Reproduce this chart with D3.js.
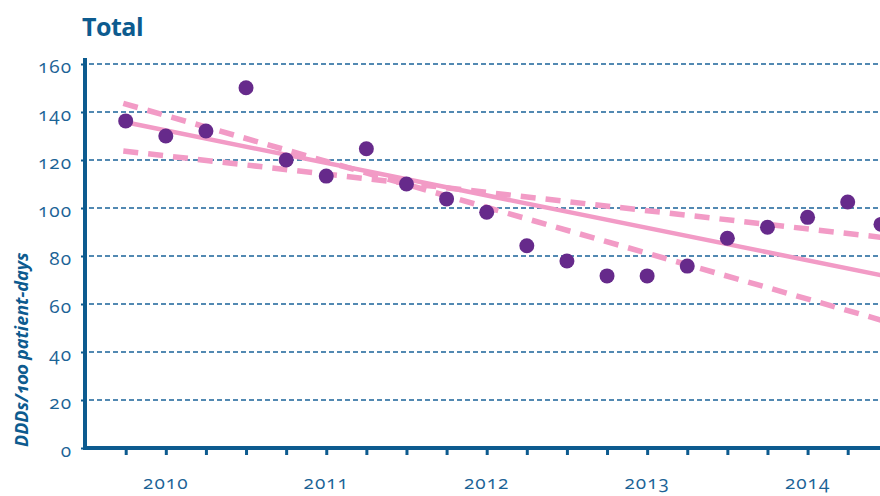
<!DOCTYPE html>
<html>
<head>
<meta charset="utf-8">
<script src="https://cdn.jsdelivr.net/npm/d3@7"></script>
<style>
  body { margin: 0; background: #fff; }
  svg { display: block; font-family: 'Open Sans', sans-serif; font-variant-numeric: oldstyle-nums; }
</style>
</head>
<body>
<script>
// quarterly values, DDDs per 100 patient-days
const quarters = d3.range(20)
const values = [136.3, 130, 132.1, 150.1, 120, 113.3, 124.7, 110, 103.8, 98.2,
                84.3, 77.9, 71.7, 71.7, 75.8, 87.4, 92, 96.1, 102.5, 93.2]
const yearLabels = ['2010', '2011', '2012', '2013', '2014']
const yearLabelQuarters = [1, 5, 9, 13, 17]
const yTicks = [0, 20, 40, 60, 80, 100, 120, 140, 160]

// trend line and its confidence limits, [quarter, value]
const trend = [[0, 135.7], [19, 72]]
const upperLimit = [[-0.06, 143.6], [19, 53.3]]
const lowerLimit = [[-0.06, 123.75], [19, 87.8]]

const W = 880
const H = 496
const MARGIN = { LEFT: 85, RIGHT: 0, TOP: 64, BOTTOM: 48 }
const BLUE = '#0d5b8f'
const TEXT_BLUE = '#1b6396'
const PINK = '#f29bc6'
const PURPLE = '#662a8b'

const svg = d3.select('body').append('svg')
  .attr('width', W)
  .attr('height', H)

// the last quarter sits right on the cut edge of the chart
const x = d3.scaleLinear()
  .domain([0, 18, 19])
  .range([125.7, 847.7, 881])

const y = d3.scaleLinear()
  .domain([0, 160])
  .range([448, 64])

// title
svg.append('text')
  .text('Total')
  .attr('x', 82)
  .attr('y', 36)
  .attr('fill', BLUE)
  .attr('font-size', '25px')
  .attr('font-weight', 'bold')
  .attr('letter-spacing', '-0.5')

// y axis title
svg.append('text')
  .text('DDDs/100 patient-days')
  .attr('transform', 'translate(28, 447) rotate(-90)')
  .attr('fill', BLUE)
  .attr('font-size', '18px')
  .attr('font-weight', 'bold')
  .attr('font-style', 'italic')

// gridlines
svg.append('g')
  .selectAll('line')
  .data(yTicks.filter(d => d > 0))
  .enter()
    .append('line')
    .attr('x1', 89)
    .attr('x2', W)
    .attr('y1', d => y(d))
    .attr('y2', d => y(d))
    .attr('stroke', '#1a6399')
    .attr('stroke-width', 1.3)
    .attr('stroke-dasharray', '5,3')

// y axis
const yAxis = d3.axisLeft(y)
  .tickValues(yTicks)
  .tickSize(4)
  .tickPadding(9)

const gy = svg.append('g')
  .attr('transform', `translate(${MARGIN.LEFT}, 0)`)
  .call(yAxis)
gy.select('.domain').remove()
gy.selectAll('.tick line').attr('stroke', BLUE).attr('stroke-width', 2)
gy.selectAll('.tick text')
  .attr('fill', TEXT_BLUE)
  .attr('font-size', '19px')
  .attr('dy', '0.45em')
  .attr('letter-spacing', '1')
  .style('font-family', "'Open Sans', sans-serif")

svg.append('line')
  .attr('x1', MARGIN.LEFT)
  .attr('x2', MARGIN.LEFT)
  .attr('y1', 58)
  .attr('y2', 450)
  .attr('stroke', BLUE)
  .attr('stroke-width', 4)

// x axis
const xAxis = d3.axisBottom(x)
  .tickValues(quarters.slice(0, 19))
  .tickSize(7)
  .tickFormat('')

const gx = svg.append('g')
  .attr('transform', `translate(0, 448)`)
  .call(xAxis)
gx.select('.domain').remove()
gx.selectAll('.tick line').attr('stroke', BLUE).attr('stroke-width', 3)

svg.append('line')
  .attr('x1', 83)
  .attr('x2', W)
  .attr('y1', 448)
  .attr('y2', 448)
  .attr('stroke', BLUE)
  .attr('stroke-width', 4)

svg.append('g')
  .selectAll('text')
  .data(yearLabels)
  .enter()
    .append('text')
    .text(d => d)
    .attr('x', (d, i) => x(yearLabelQuarters[i]))
    .attr('y', 489)
    .attr('text-anchor', 'middle')
    .attr('fill', TEXT_BLUE)
    .attr('font-size', '19px')
    .attr('letter-spacing', '1')

// plot area
svg.append('clipPath')
  .attr('id', 'plot')
  .append('rect')
  .attr('x', 88)
  .attr('y', 0)
  .attr('width', W - 88)
  .attr('height', 446)

const plot = svg.append('g').attr('clip-path', 'url(#plot)')

const line = d3.line()
  .x(d => x(d[0]))
  .y(d => y(d[1]))

plot.append('path')
  .attr('d', line(upperLimit))
  .attr('fill', 'none')
  .attr('stroke', PINK)
  .attr('stroke-width', 5.5)
  .attr('stroke-dasharray', '15,10')

plot.append('path')
  .attr('d', line(lowerLimit))
  .attr('fill', 'none')
  .attr('stroke', PINK)
  .attr('stroke-width', 5.5)
  .attr('stroke-dasharray', '15,10')

plot.append('path')
  .attr('d', line(trend))
  .attr('fill', 'none')
  .attr('stroke', PINK)
  .attr('stroke-width', 4.5)

plot.append('g')
  .selectAll('circle')
  .data(values)
  .enter()
    .append('circle')
    .attr('cx', (d, i) => x(quarters[i]))
    .attr('cy', d => y(d))
    .attr('r', 7.5)
    .attr('fill', PURPLE)
</script>
</body>
</html>
